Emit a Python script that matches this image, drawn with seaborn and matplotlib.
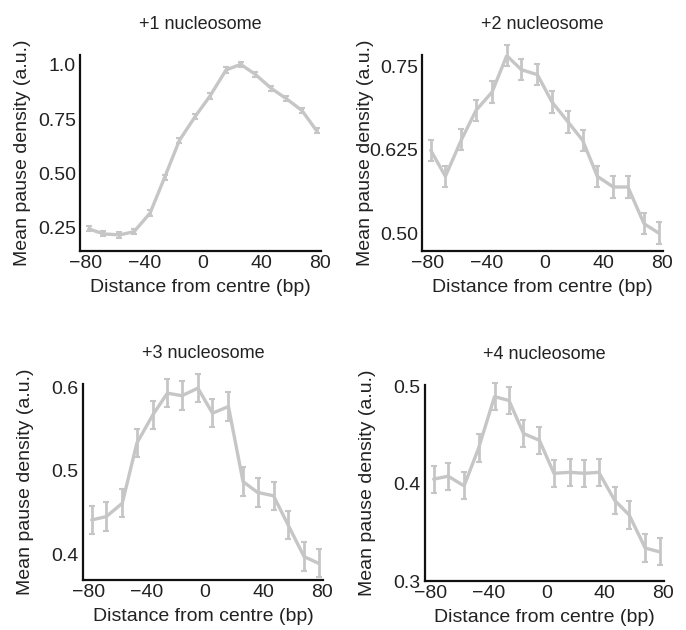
import matplotlib
matplotlib.use("Agg")
import matplotlib.pyplot as plt
import seaborn as sns
import pandas as pd
import numpy as np

sns.set_theme(style="white")
plt.rcParams['font.family'] = ['Liberation Sans', 'DejaVu Sans']

# ---- data ----
positions = [-78, -68, -57, -47, -36, -26, -16, -5, 5, 16, 26, 36, 47, 57, 68, 78]

titles = ["+1 nucleosome", "+2 nucleosome", "+3 nucleosome", "+4 nucleosome"]

nuc1 = [0.245, 0.222, 0.217, 0.232, 0.318, 0.483, 0.652, 0.764, 0.857, 0.977, 1.003, 0.957, 0.892, 0.846, 0.790, 0.697]
nuc1_err = [0.012] * 16

nuc2 = [0.624, 0.585, 0.64, 0.684, 0.7115, 0.766, 0.745, 0.7375, 0.6965, 0.6665, 0.639, 0.585, 0.569, 0.569, 0.514, 0.500]
nuc2_err = [0.016] * 16

nuc3 = [0.441, 0.445, 0.461, 0.533, 0.567, 0.593, 0.590, 0.599, 0.569, 0.577, 0.487, 0.474, 0.470, 0.435, 0.397, 0.389]
nuc3_err = [0.017] * 16

nuc4 = [0.405, 0.408, 0.398, 0.437, 0.490, 0.486, 0.452, 0.445, 0.411, 0.412, 0.411, 0.412, 0.383, 0.368, 0.334, 0.330]
nuc4_err = [0.014] * 16

series = [nuc1, nuc2, nuc3, nuc4]
errors = [nuc1_err, nuc2_err, nuc3_err, nuc4_err]

yticks = [[0.25, 0.50, 0.75, 1.0], [0.50, 0.625, 0.75], [0.4, 0.5, 0.6], [0.3, 0.4, 0.5]]
yticklabels = [["0.25", "0.50", "0.75", "1.0"], ["0.50", "0.625", "0.75"], ["0.4", "0.5", "0.6"], ["0.3", "0.4", "0.5"]]
ylims = [(0.143, 1.046), (0.473, 0.767), (0.369, 0.604), (0.300, 0.502)]
xticks = [-80, -40, 0, 40, 80]
xticklabels = ["\u221280", "\u221240", "0", "40", "80"]

# ---- layout (pixels) ----
W, H = 686, 630
boxes = [(80, 55, 321, 251), (422, 55, 663, 251), (83, 384, 323, 580), (425, 385, 664, 581)]

fig = plt.figure(figsize=(W / 100, H / 100), dpi=100)
color = "#c6c6c6"
fs = 14
tcol = "#222222"

for i in range(4):
    l, t, r, b = boxes[i]
    w, h = r - l, b - t
    ax = fig.add_axes([l / W, 1 - b / H, w / W, h / H])
    df = pd.DataFrame({"x": positions, "y": series[i]})
    sns.lineplot(data=df, x="x", y="y", ax=ax, color=color, linewidth=2.4)
    ax.errorbar(positions, series[i], yerr=errors[i], fmt="none", ecolor=color,
                elinewidth=2.0, capsize=2.0, capthick=1.5, clip_on=False)
    ax.set_xlim(-84, 81)
    ax.set_ylim(*ylims[i])
    ax.set_xticks(xticks)
    ax.set_xticklabels(xticklabels, fontsize=fs)
    ax.set_yticks(yticks[i])
    ax.set_yticklabels(yticklabels[i], fontsize=fs)
    ax.tick_params(axis="both", length=0, pad=3, colors=tcol)
    ax.set_xlabel("Distance from centre (bp)", fontsize=fs, color=tcol, labelpad=5)
    ax.set_ylabel("Mean pause density (a.u.)", fontsize=fs, color=tcol, va="center")
    ax.yaxis.set_label_coords(-57 / w, 0.5)
    ax.set_title(titles[i], fontsize=13, color=tcol, pad=19)
    for s in ["top", "right"]:
        ax.spines[s].set_visible(False)
    for s in ["left", "bottom"]:
        ax.spines[s].set_color("#111111")
        ax.spines[s].set_linewidth(1.6)
    ax.set_facecolor("white")

fig.savefig("out.png", dpi=100, facecolor="white")
